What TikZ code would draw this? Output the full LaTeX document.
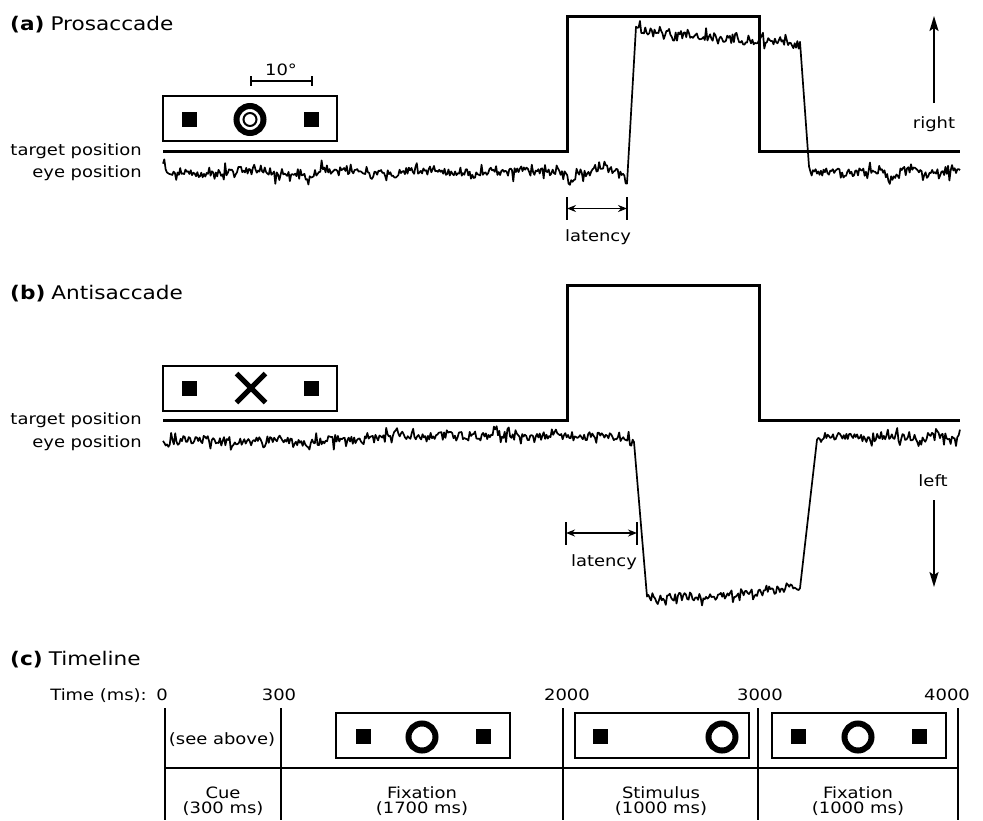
\documentclass[tikz,border=0pt]{standalone}
\usepackage{fontspec}
\setmainfont{DejaVu Sans}[FakeStretch=1.15]
\usetikzlibrary{arrows.meta}
\begin{document}
\begin{tikzpicture}[x=1pt,y=-1pt,
  lbl/.style={font=\fontsize{15.6}{15}\selectfont, inner sep=0pt},
  ttl/.style={font=\fontsize{18.8}{20}\selectfont, inner sep=0pt, anchor=base west},
  stimbox/.style={draw, line width=2pt, minimum width=174pt, minimum height=45pt, inner sep=0pt},
  sq/.style={fill, minimum size=15pt, inner sep=0pt},
  ring/.style={circle, draw, line width=6pt, minimum size=27pt, inner sep=0pt},
  tgt/.style={line width=3pt},
  trace/.style={line width=1.7pt, line join=round},
  tickline/.style={line width=1.6pt},
  lat/.style={line width=1.6pt, {Stealth[length=9pt,width=7pt]}-{Stealth[length=9pt,width=7pt]}},
  dirarrow/.style={line width=1.8pt, -{Stealth[length=15pt,width=9pt,inset=3pt]}},
  tl/.style={line width=2.5pt}]
\fill[white] (0,0) rectangle (983,820);
\useasboundingbox (0,0) rectangle (983,820);
\pgfmathdeclarefunction{nz}{0}{%
  \pgfmathsetmacro\nzA{rand}%
  \pgfmathsetmacro\nzB{rand}%
  \pgfmathparse{3.8*\nzA + 8*\nzB*\nzB*\nzB*\nzB*\nzB}%
}

%% ---------------- (a) Prosaccade ----------------
\node[ttl] (ta) at (10,30) {\textbf{(a)}\hspace{6pt}Prosaccade};
\node[stimbox] (boxA) at (250,118.5) {};
\node[sq] (sqA1) at (189,119) {};
\node[sq] (sqA2) at (311,119) {};
\node[ring] (rgA) at (250,119.5) {};
\node[circle, draw, line width=2pt, minimum size=13pt, inner sep=0pt] (rgAi) at (250,119.5) {};
% scale bar
\coordinate (sbL) at (251,81);
\coordinate (sbR) at (312,81);
\draw[tickline] (sbL) -- (sbR);
\draw[tickline] (251,76) -- (251,86);
\draw[tickline] (312,76) -- (312,86);
\node[lbl, anchor=base] (deg) at (281,75) {10°};

\node[lbl, anchor=base east] (tpA) at (142,155) {target position};
\node[lbl, anchor=base east] (epA) at (142,177) {eye position};

\coordinate (a0) at (163,151);
\coordinate (a1) at (567,151);
\coordinate (a2) at (567,16);
\coordinate (a3) at (759,16);
\coordinate (a4) at (759,151);
\coordinate (a5) at (960,151);
\draw[tgt] (a0) -- (a1) -- (a2) -- (a3) -- (a4) -- (a5);

\pgfmathsetseed{1234}
\draw[trace]
  plot[domain=163:545, samples=290, variable=\t] (\t, {172 + nz + 1.5*sin(4*\t) + 1.2*sin(13*\t)})
  -- plot[domain=546:627, samples=62, variable=\t] (\t, {172 + nz + 9/(1+((\t-572)/6)^2) - 5/(1+((\t-603)/10)^2) + 8/(1+((\t-625)/3)^2)})
  -- plot[domain=636:800, samples=125, variable=\t] (\t, {30 + 0.1*(\t-636) + nz - 6/(1+((\t-775)/8)^2)})
  -- plot[domain=809:960, samples=115, variable=\t] (\t, {172 + nz + 1.2*sin(9*\t)});

% latency (a)
\coordinate (laL) at (567,208.5);
\coordinate (laR) at (627,208.5);
\draw[tickline] (567,197) -- (567,220);
\draw[tickline] (627,197) -- (627,220);
\draw[lat] (laL) -- (laR);
\node[lbl, anchor=base] (latA) at (598,241) {latency};

% right arrow
\node[lbl, anchor=base] (right) at (934,128) {right};
\coordinate (rA0) at (934,103);
\coordinate (rA1) at (934,16);
\draw[dirarrow] (rA0) -- (rA1);

%% ---------------- (b) Antisaccade ----------------
\node[ttl] (tb) at (10,299) {\textbf{(b)}\hspace{6pt}Antisaccade};
\node[stimbox] (boxB) at (250,388) {};
\node[sq] (sqB1) at (189,388) {};
\node[sq] (sqB2) at (311,388) {};
\draw[line width=5pt] (236.5,373.5) -- (265.5,402.5) (236.5,402.5) -- (265.5,373.5);

\node[lbl, anchor=base east] (tpB) at (142,424) {target position};
\node[lbl, anchor=base east] (epB) at (142,447) {eye position};

\coordinate (b0) at (163,420);
\coordinate (b1) at (567,420);
\coordinate (b2) at (567,285);
\coordinate (b3) at (759,285);
\coordinate (b4) at (759,420);
\coordinate (b5) at (960,420);
\draw[tgt] (b0) -- (b1) -- (b2) -- (b3) -- (b4) -- (b5);

\pgfmathsetseed{777}
\draw[trace]
  plot[domain=163:365, samples=150, variable=\t] (\t, {441 + nz + 1.5*sin(5*\t)})
  -- plot[domain=366:634, samples=200, variable=\t] (\t, {436 + nz + 1.2*sin(7*\t) - 8/(1+((\t-495)/2)^2)})
  -- plot[domain=647:800, samples=115, variable=\t] (\t, {598 - 0.04*(\t-647) + nz - 8/(1+((\t-790)/4)^2)})
  -- plot[domain=817:960, samples=108, variable=\t] (\t, {437 + nz + 1.2*sin(8*\t)});

% latency (b)
\coordinate (lbL) at (566,533);
\coordinate (lbR) at (637,533);
\draw[tickline] (566,522) -- (566,545);
\draw[tickline] (637,522) -- (637,545);
\draw[lat] (lbL) -- (lbR);
\node[lbl, anchor=base] (latB) at (604,566) {latency};

% left arrow
\node[lbl, anchor=base] (left) at (933,486) {left};
\coordinate (lA0) at (934,500);
\coordinate (lA1) at (934,587);
\draw[dirarrow] (lA0) -- (lA1);

%% ---------------- (c) Timeline ----------------
\node[ttl] (tc) at (10,665) {\textbf{(c)}\hspace{6pt}Timeline};
\node[lbl, anchor=base east] (tms) at (147,700) {Time (ms):};
\node[lbl, anchor=base] (t0) at (162,700) {0};
\node[lbl, anchor=base] (t300) at (279,700) {300};
\node[lbl, anchor=base] (t2000) at (567,700) {2000};
\node[lbl, anchor=base] (t3000) at (760,700) {3000};
\node[lbl, anchor=base] (t4000) at (947,700) {4000};

\coordinate (v0t) at (165,708); \coordinate (v0b) at (165,820);
\coordinate (v1t) at (281,708); \coordinate (v1b) at (281,820);
\coordinate (v2t) at (563,708); \coordinate (v2b) at (563,820);
\coordinate (v3t) at (758,708); \coordinate (v3b) at (758,820);
\coordinate (v4t) at (958,708); \coordinate (v4b) at (958,820);
\coordinate (hL) at (165,768); \coordinate (hR) at (958,768);
\draw[tl] (v0t) -- (v0b);
\draw[tl] (v1t) -- (v1b);
\draw[tl] (v2t) -- (v2b);
\draw[tl] (v3t) -- (v3b);
\draw[tl] (v4t) -- (v4b);
\draw[tl] (hL) -- (hR);

\node[lbl] (see) at (222,740) {(see above)};

\node[stimbox] (box1) at (422.5,735.5) {};
\node[sq] (s11) at (363,736) {};
\node[ring] (r1) at (422,737) {};
\node[sq] (s12) at (483,736) {};

\node[stimbox] (box2) at (661.5,735.5) {};
\node[sq] (s21) at (600,736) {};
\node[ring] (r2) at (722,737) {};

\node[stimbox] (box3) at (859,735.5) {};
\node[sq] (s31) at (798,736) {};
\node[ring] (r3) at (858,737) {};
\node[sq] (s32) at (919,736) {};

\node[lbl, align=center] (cue) at (223,801) {Cue\\(300 ms)};
\node[lbl, align=center] (fix1) at (422,801) {Fixation\\(1700 ms)};
\node[lbl, align=center] (stim) at (661,801) {Stimulus\\(1000 ms)};
\node[lbl, align=center] (fix2) at (858,801) {Fixation\\(1000 ms)};
\end{tikzpicture}
\end{document}
